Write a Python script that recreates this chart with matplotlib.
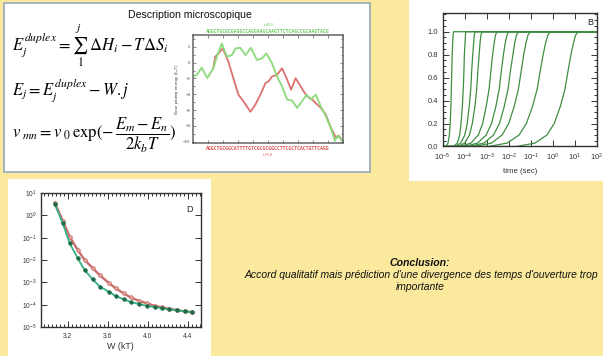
import numpy as np
import matplotlib
matplotlib.use('Agg')
import matplotlib.pyplot as plt
from matplotlib.patches import Rectangle
from matplotlib.ticker import FixedLocator, MultipleLocator, NullFormatter, NullLocator, LogLocator

plt.rcParams['mathtext.fontset'] = 'stix'
plt.rcParams['font.family'] = ['Liberation Sans', 'DejaVu Sans']

# ---------------- data ----------------
# Panel "Description microscopique": base pairing energy along the sequence
green_x = [0, 0.8, 1.8, 2.9, 4.1, 4.8, 5.8, 6.8, 7.8, 8.5, 9.5, 10.5, 11.6, 12.8, 13.8, 14.7,
           15.8, 16.8, 17.8, 18.8, 19.8, 20.8, 21.8, 22.7, 23.5, 24.5, 25.5, 26.5, 27.5, 28.3,
           28.9, 29.8]
green_y = [-1.75, -1.54, -0.63, -1.96, -0.71, 0.75, 2.42, 0.75, 0.96, 1.79, 1.88, 0.96, 1.88,
           0.33, 0.54, 1.17, -0.08, -1.75, -3.0, -4.67, -4.79, -5.71, -4.88, -4.04, -4.67,
           -4.04, -5.5, -6.75, -8.21, -9.88, -9.25, -9.88]
red_x = [4.1, 4.5, 6.0, 7.1, 8.1, 9.1, 10.1, 11.5, 12.5, 13.5, 14.5, 15.1, 15.8, 16.8, 17.8,
         18.7, 19.6, 20.5, 21.3, 22.1, 22.8, 23.8, 24.8, 25.5, 26.5, 27.5, 28.5, 29.1, 29.8]
red_y = [-0.71, 0.75, 1.79, 0.13, -1.96, -4.04, -4.88, -6.21, -5.29, -4.04, -2.58, -2.38,
         -1.75, -1.54, -0.71, -1.96, -3.42, -1.96, -2.79, -3.63, -4.25, -4.67, -5.29, -5.71,
         -6.54, -8.21, -9.46, -9.25, -9.88]
energy_ticks = [2, 0, -2, -4, -6, -8, -10]
seq_top = "AGGCTGCGCGAGGCCAGGAAGCAAGTTCTCAGCCGCAAGTACG"
seq_bottom = "AGGCTGCGGCATTTTGTCGCGCGGCCTTCGCTCACTGTTCAGG"

# Panel B: opening fraction vs time (log10 of time at each fraction level)
levels_B = [0, 0.03, 0.1, 0.2, 0.35, 0.5, 0.65, 0.8, 0.9, 0.97, 1.0]
logt_curves = [
    [-4.84, -4.75, -4.69, -4.65, -4.62, -4.60, -4.58, -4.56, -4.54, -4.52, -4.50],
    [-4.50, -4.33, -4.22, -4.16, -4.10, -4.06, -4.03, -4.01, -3.98, -3.96, -3.94],
    [-4.45, -4.17, -3.99, -3.88, -3.79, -3.72, -3.68, -3.63, -3.59, -3.56, -3.52],
    [-4.33, -3.99, -3.78, -3.65, -3.53, -3.45, -3.40, -3.34, -3.30, -3.26, -3.21],
    [-4.21, -3.71, -3.38, -3.18, -3.02, -2.89, -2.81, -2.73, -2.66, -2.60, -2.53],
    [-4.01, -3.41, -3.02, -2.78, -2.58, -2.43, -2.34, -2.24, -2.16, -2.08, -2.00],
    [-3.79, -3.12, -2.69, -2.42, -2.20, -2.03, -1.93, -1.81, -1.73, -1.65, -1.55],
    [-3.54, -2.78, -2.30, -2.00, -1.75, -1.56, -1.44, -1.32, -1.22, -1.13, -1.02],
    [-2.91, -2.07, -1.53, -1.20, -0.92, -0.71, -0.58, -0.44, -0.33, -0.23, -0.11],
    [-1.65, -0.81, -0.27, 0.06, 0.34, 0.55, 0.68, 0.82, 0.93, 1.03, 1.15],
]
B_yticks = [0.0, 0.2, 0.4, 0.6, 0.8, 1.0]

# Panel D: rate vs W
W_vals = [3.07, 3.15, 3.22, 3.30, 3.37, 3.45, 3.52, 3.61, 3.68, 3.76, 3.83, 3.91, 3.99,
          4.07, 4.14, 4.21, 4.29, 4.37, 4.44]
D_red = [3.7, 0.58, 0.11, 0.028, 0.010, 4.3e-3, 2.1e-3, 9.5e-4, 5.4e-4, 3.2e-4, 2.1e-4,
         1.5e-4, 1.15e-4, 8.9e-5, 7.6e-5, 6.6e-5, 5.8e-5, 5.0e-5, 4.7e-5]
D_green = [3.2, 0.44, 0.056, 0.012, 3.5e-3, 1.35e-3, 6.5e-4, 3.8e-4, 2.45e-4, 1.74e-4,
           1.32e-4, 1.07e-4, 8.9e-5, 7.8e-5, 6.9e-5, 6.2e-5, 5.6e-5, 5.0e-5, 4.6e-5]
D_xticks = [3.2, 3.6, 4.0, 4.4]

# ---------------- figure ----------------
FW, FH = 603, 356
fig = plt.figure(figsize=(6.03, 3.56), dpi=100)
BG = '#FBE99D'
fig.patch.set_facecolor(BG)


def px_axes(x0, y0, x1, y1, **kw):
    return fig.add_axes([x0 / FW, 1 - y1 / FH, (x1 - x0) / FW, (y1 - y0) / FH], **kw)


bg = px_axes(0, 0, FW, FH)
bg.set_xlim(0, FW)
bg.set_ylim(FH, 0)
bg.axis('off')
bg.add_patch(Rectangle((4, 3), 366, 169, facecolor='white', edgecolor='#9DAFB8', lw=1.3))
bg.add_patch(Rectangle((409, -2), 196, 183, facecolor='white', edgecolor='none'))
bg.add_patch(Rectangle((8, 179), 203, 180, facecolor='white', edgecolor='none'))

bg.text(190, 15, 'Description microscopique', ha='center', va='center', fontsize=7.6,
        color='#111111')

bg.text(12, 45, r'$E_j^{duplex} = \sum_1^j\ \Delta H_i - T\Delta S_i$', ha='left', va='center',
        fontsize=12)
bg.text(12, 90, r'$E_j = E_j^{duplex} - W.j$', ha='left', va='center', fontsize=12)
bg.text(12, 135, r'$v_{\ mn} = v_{\ 0}\,\mathrm{exp}(-\,\dfrac{E_m - E_n}{2k_bT})$', ha='left',
        va='center', fontsize=12)

# sequence labels around energy plot
bg.text(268, 25, 'j=40.0', ha='center', va='center', fontsize=2.6, color='#6CCB5F')
bg.text(268, 31.5, seq_top, ha='center', va='center', fontsize=3.5, color='#6CCB5F',
        family='DejaVu Sans Mono', fontweight='bold')
bg.text(268, 148.5, seq_bottom, ha='center', va='center', fontsize=3.5, color='#D9534F',
        family='DejaVu Sans Mono', fontweight='bold')
bg.text(268, 155, 'L-PLS', ha='center', va='center', fontsize=2.6, color='#D9534F')

# energy plot
ae = px_axes(192.7, 35, 343.3, 143.3)
ae.plot(red_x, red_y, color='#D9625E', lw=1.3, alpha=0.9)
ae.plot(green_x, green_y, color='#8BDB7C', lw=1.4, alpha=0.95)
ae.set_xlim(0, 30)
ae.set_ylim(-10.2, 3.5)
ae.yaxis.set_major_locator(FixedLocator(energy_ticks))
ae.yaxis.set_minor_locator(MultipleLocator(1))
ae.xaxis.set_major_locator(MultipleLocator(3))
ae.xaxis.set_major_formatter(NullFormatter())
ae.tick_params(which='both', direction='in', top=True, right=True, labelsize=3.2, width=0.5,
               colors='#555555', pad=1.5)
ae.tick_params(which='major', length=2.2)
ae.tick_params(which='minor', length=1.2)
for s in ae.spines.values():
    s.set_color('#666666')
    s.set_linewidth(1.1)
ae.set_ylabel(r'Base pairing energy ($k_BT$)', fontsize=3.2, labelpad=1.5, color='#444444')

# Panel B
ab = px_axes(442.5, 13, 597, 146.5)
for c in logt_curves:
    xs = [1e-5] + [10 ** v for v in c] + [1e2]
    ys = [0] + levels_B + [1]
    ab.plot(xs, ys, color='#3E8E41', lw=0.9)
ab.set_xscale('log')
ab.set_xlim(1e-5, 1e2)
ab.set_ylim(0, 1.163)
ab.yaxis.set_major_locator(FixedLocator(B_yticks))
ab.yaxis.set_major_formatter(matplotlib.ticker.FixedFormatter(['%.1f' % v for v in B_yticks]))
ab.yaxis.set_minor_locator(MultipleLocator(0.05))
ab.xaxis.set_major_locator(LogLocator(base=10, numticks=12))
ab.xaxis.set_minor_locator(NullLocator())
ab.tick_params(which='both', direction='in', top=True, right=True, labelsize=5.4, width=0.7,
               colors='#333333')
ab.tick_params(axis='x', pad=4)
ab.tick_params(axis='y', pad=3)
ab.tick_params(which='major', length=4)
ab.tick_params(which='minor', length=2)
for s in ab.spines.values():
    s.set_color('#333333')
    s.set_linewidth(1.0)
ab.set_xlabel('time (sec)', fontsize=5.6, labelpad=3, color='#333333')
ab.text(0.955, 0.93, 'B', transform=ab.transAxes, ha='center', va='center', fontsize=6.5,
        color='#222222')

# Panel D
ad = px_axes(40.7, 193, 200.7, 327)
ad.plot(W_vals, D_red, color='#C96F6C', lw=1.7, marker='o', ms=2.6, mfc='#E6A9A2', mec='#C96F6C',
        mew=0.6)
ad.plot(W_vals, D_green, color='#35B088', lw=1.3, marker='o', ms=2.6, mfc='#1E6B45',
        mec='#1E6B45', mew=0.5)
ad.set_yscale('log')
ad.set_ylim(1e-5, 1e1)
ad.set_xlim(2.93, 4.53)
ad.xaxis.set_major_locator(FixedLocator(D_xticks))
ad.xaxis.set_major_formatter(matplotlib.ticker.FixedFormatter(['%.1f' % v for v in D_xticks]))
ad.xaxis.set_minor_locator(MultipleLocator(0.04))
ad.yaxis.set_major_locator(LogLocator(base=10, numticks=10))
ad.yaxis.set_minor_locator(NullLocator())
ad.tick_params(which='both', direction='in', top=True, right=True, labelsize=4.8, width=0.7,
               colors='#333333')
ad.tick_params(axis='x', pad=4)
ad.tick_params(axis='y', pad=3)
ad.tick_params(which='major', length=4)
ad.tick_params(which='minor', length=2)
for s in ad.spines.values():
    s.set_color('#333333')
    s.set_linewidth(1.0)
ad.set_xlabel('W (kT)', fontsize=6.4, labelpad=2, color='#333333')
ad.text(0.93, 0.88, 'D', transform=ad.transAxes, ha='center', va='center', fontsize=6.5,
        color='#222222')

# Conclusion
bg.text(420, 263, 'Conclusion:', ha='center', va='center', fontsize=7.6, fontweight='bold',
        style='italic', color='#111111')
bg.text(421, 275, "Accord qualitatif mais prédiction d'une divergence des temps d'ouverture trop",
        ha='center', va='center', fontsize=7.5, style='italic', color='#111111')
bg.text(420, 287, 'importante', ha='center', va='center', fontsize=7.5, style='italic',
        color='#111111')

fig.savefig('out.png', dpi=100, facecolor=BG)
